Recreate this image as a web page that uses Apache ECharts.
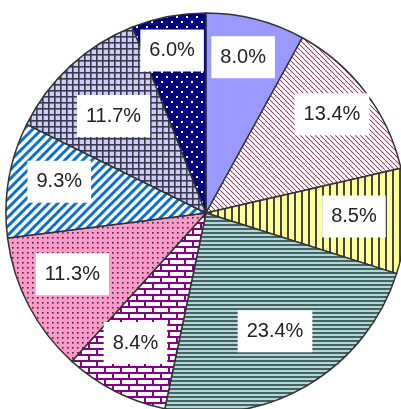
<!DOCTYPE html>
<html>
<head>
<meta charset="utf-8">
<script src="https://cdn.jsdelivr.net/npm/echarts@6/dist/echarts.min.js"></script>
<style>
  html, body { margin: 0; padding: 0; background: #fff; }
  #chart { width: 401px; height: 409px; }
</style>
</head>
<body>
<div id="chart"></div>
<script>
// 各区分の構成比（%）、12時の位置から時計回り
var shares = [8.0, 13.4, 8.5, 23.4, 8.4, 11.3, 9.3, 11.7, 6.0];
var labels = ['8.0%', '13.4%', '8.5%', '23.4%', '8.4%', '11.3%', '9.3%', '11.7%', '6.0%'];

// ラベル位置の微調整：中心からの距離（px）と中央角からのずれ（度）
var labelDist = [157, 157, 145, 134, 145, 144, 147, 131, 163];
var labelTurn = [-1, -1, -1, 0, 1.5, 3, 2.5, -1, -1];
var baseDist = 145;

// 塗りパターン用のタイル
function tile(w, h, bg, draw) {
    var c = document.createElement('canvas');
    c.width = w;
    c.height = h;
    var ctx = c.getContext('2d');
    ctx.fillStyle = bg;
    ctx.fillRect(0, 0, w, h);
    draw(ctx);
    return { image: c, repeat: 'repeat' };
}

var fills = [
    '#9999FF',
    // 赤の斜線
    tile(5, 5, '#fff', function (ctx) {
        ctx.fillStyle = '#A0406A';
        for (var i = 0; i < 5; i++) ctx.fillRect(i, i, 1.2, 1.2);
    }),
    // 黄色に縦線
    tile(7, 4, '#FFFF99', function (ctx) {
        ctx.fillStyle = '#444';
        ctx.fillRect(0, 0, 2, 4);
    }),
    // 横線
    tile(4, 4, '#A8DCDC', function (ctx) {
        ctx.fillStyle = '#4F5E5E';
        ctx.fillRect(0, 0, 4, 2);
    }),
    // レンガ
    tile(16, 12, '#fff', function (ctx) {
        ctx.fillStyle = '#880088';
        ctx.fillRect(0, 0, 16, 2);
        ctx.fillRect(0, 6, 16, 2);
        ctx.fillRect(0, 0, 2, 6);
        ctx.fillRect(8, 6, 2, 6);
    }),
    // ピンクに点
    tile(5, 5, '#FF99CC', function (ctx) {
        ctx.fillStyle = '#333';
        ctx.fillRect(2, 2, 1.6, 1.6);
    }),
    // 青の太い斜線
    tile(9, 9, '#fff', function (ctx) {
        ctx.strokeStyle = '#0A6FD0';
        ctx.lineWidth = 3;
        ctx.beginPath();
        ctx.moveTo(-2, 11); ctx.lineTo(11, -2);
        ctx.moveTo(-2, 2); ctx.lineTo(2, -2);
        ctx.moveTo(7, 11); ctx.lineTo(11, 7);
        ctx.stroke();
    }),
    // 格子
    tile(6, 6, '#CCCCFF', function (ctx) {
        ctx.fillStyle = '#3A3A48';
        ctx.fillRect(0, 0, 6, 1.6);
        ctx.fillRect(0, 0, 1.6, 6);
    }),
    // 紺に白点
    tile(10, 10, '#000080', function (ctx) {
        ctx.fillStyle = '#fff';
        ctx.fillRect(1, 1, 2, 2);
        ctx.fillRect(6, 6, 2, 2);
    })
];

// 各扇形の中央角（12時から時計回り、ラジアン）
var total = shares.reduce(function (a, b) { return a + b; }, 0);
var midAngle = [];
var acc = 0;
shares.forEach(function (v) {
    midAngle.push((acc + v / 2) / total * Math.PI * 2);
    acc += v;
});

var myChart = echarts.init(document.getElementById('chart'));

var option = {
    animation: false,
    series: [
        {
            type: 'pie',
            center: [206, 213],
            radius: [0, 200],
            startAngle: 90,
            clockwise: true,
            silent: true,
            label: { show: false },
            labelLine: { show: false },
            itemStyle: { borderColor: '#333', borderWidth: 1.5 },
            data: shares.map(function (v, i) {
                return { value: v, itemStyle: { color: fills[i] } };
            })
        },
        {
            // ラベルだけの層
            type: 'pie',
            center: [206, 213],
            radius: [90, 200],
            startAngle: 90,
            clockwise: true,
            silent: true,
            itemStyle: { color: 'rgba(0,0,0,0)', borderWidth: 0 },
            label: {
                show: true,
                position: 'inside',
                formatter: function (p) { return labels[p.dataIndex]; },
                fontFamily: 'Liberation Sans, Arial, sans-serif',
                fontSize: 20,
                color: '#222',
                backgroundColor: '#fff',
                padding: [11, 9]
            },
            labelLayout: function (p) {
                var i = p.dataIndex;
                var a0 = midAngle[i];
                var a1 = a0 + labelTurn[i] * Math.PI / 180;
                return {
                    dx: labelDist[i] * Math.sin(a1) - baseDist * Math.sin(a0),
                    dy: -labelDist[i] * Math.cos(a1) + baseDist * Math.cos(a0)
                };
            },
            labelLine: { show: false },
            data: shares.map(function (v) { return { value: v }; })
        }
    ]
};

myChart.setOption(option);
</script>
</body>
</html>
